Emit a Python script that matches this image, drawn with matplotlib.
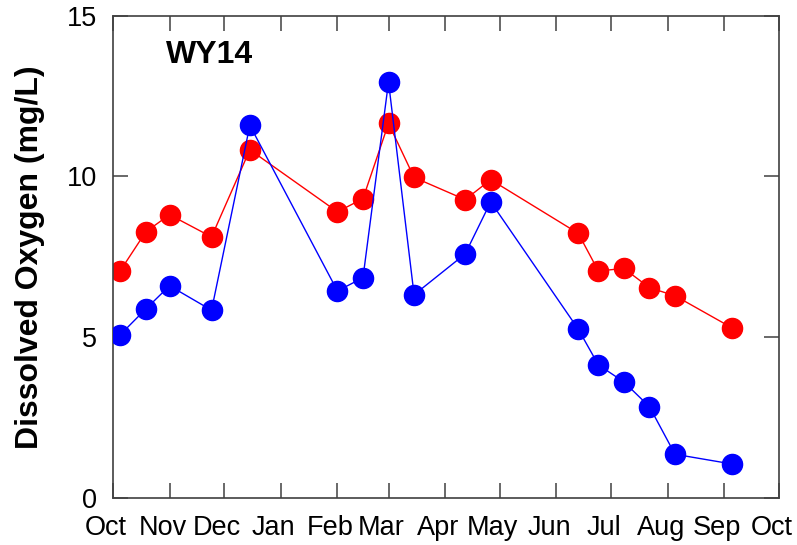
import datetime as dt
import matplotlib
matplotlib.use("Agg")
import matplotlib.pyplot as plt
import matplotlib.dates as mdates
import matplotlib.transforms as mtransforms

plt.rcParams['font.family'] = ['Liberation Sans', 'DejaVu Sans']

# Sampling dates (water year 2014)
dates = ["2013-10-05", "2013-10-19", "2013-11-01", "2013-11-24", "2013-12-15",
         "2014-02-01", "2014-02-15", "2014-03-01", "2014-03-15", "2014-04-12",
         "2014-04-26", "2014-06-13", "2014-06-24", "2014-07-08", "2014-07-22",
         "2014-08-05", "2014-09-05"]

# Dissolved oxygen, two series
do_red = [7.07, 8.28, 8.81, 8.12, 10.83, 8.90, 9.31, 11.65, 9.97, 9.28,
          9.90, 8.23, 7.06, 7.14, 6.54, 6.29, 5.30]
do_blue = [5.08, 5.88, 6.60, 5.84, 11.59, 6.44, 6.85, 12.94, 6.32, 7.59,
           9.21, 5.25, 4.14, 3.61, 2.84, 1.36, 1.06]

month_labels = ["Oct", "Nov", "Dec", "Jan", "Feb", "Mar", "Apr", "May",
                "Jun", "Jul", "Aug", "Sep", "Oct"]

x = [dt.datetime.strptime(d, "%Y-%m-%d") for d in dates]

fig = plt.figure(figsize=(7.97, 5.45), dpi=100)
ax = fig.add_axes([113 / 797, 47 / 545, 666 / 797, 482.3 / 545])

ax.plot(x, do_red, '-o', color='#ff0000', lw=1.0, ms=14.5, zorder=2)
ax.plot(x, do_blue, '-o', color='#0000ff', lw=1.0, ms=14.5, zorder=3)

ax.set_xlim(dt.datetime(2013, 10, 1), dt.datetime(2014, 10, 1))
ax.set_ylim(0, 15)

month_ticks = [dt.datetime(2013 + (9 + i) // 12, (9 + i) % 12 + 1, 1) for i in range(13)]
ax.set_xticks(month_ticks)
ax.set_xticklabels(month_labels)
ax.set_yticks([0, 5, 10, 15])

edge = '#404040'
for s in ax.spines.values():
    s.set_color(edge)
    s.set_linewidth(1.2)
ax.tick_params(axis='both', direction='in', length=11, width=1.1, color=edge,
               labelsize=19.5, top=True, right=True)
ax.tick_params(axis='x', pad=12)
ax.tick_params(axis='y', pad=11.5)

# labels sit slightly left of their ticks in the original
shift = mtransforms.ScaledTranslation(-7 / 100, 0, fig.dpi_scale_trans)
for lab in ax.get_xticklabels():
    lab.set_transform(lab.get_transform() + shift)

fig.text(30 / 797, 0.5 * (1 - (15.7 + 498) / 545) + 0.5, "Dissolved Oxygen (mg/L)",
         rotation=90, ha='center', va='center', fontsize=23, fontweight='bold')
ax.text(0.08, 0.902, "WY14", transform=ax.transAxes, fontsize=23,
        fontweight='bold', ha='left', va='baseline')

fig.savefig("out.png", dpi=100)
